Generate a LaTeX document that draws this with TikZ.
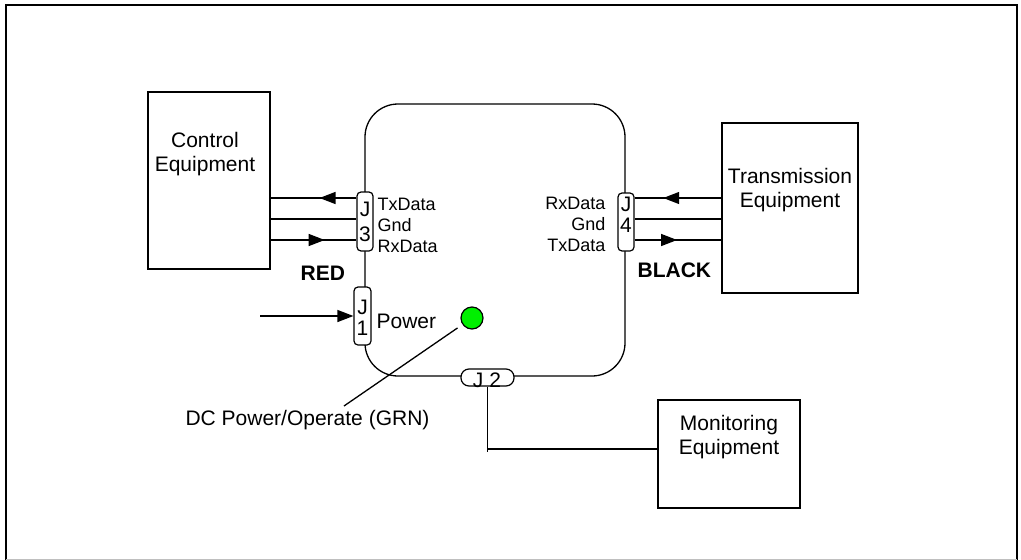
\documentclass[tikz,border=0pt]{standalone}
\usepackage{fontspec}
\setmainfont{Liberation Sans}
\usetikzlibrary{arrows.meta,decorations.markings}
\begin{document}
\begin{tikzpicture}[x=1pt,y=-1pt,
  line width=1.3pt,
  box/.style={draw, rectangle, inner sep=0pt},
  conn/.style={draw, fill=white, rounded corners=4pt, inner sep=0pt, line width=1.2pt},
  big/.style={font=\fontsize{21}{24}\selectfont, inner sep=0pt, align=center},
  pin/.style={font=\fontsize{18}{21}\selectfont, inner sep=0pt},
  jtxt/.style={font=\fontsize{21}{#1}\selectfont, inner sep=0pt, align=center},
  bold/.style={font=\fontsize{21}{24}\selectfont\bfseries, inner sep=0pt},
  tri/.style={arrows={-Triangle[length=16pt,width=12pt]}},
  midarrow/.style={postaction={decorate}, decoration={markings, mark=at position #1 with {\arrow{Triangle[length=16pt,width=12pt]}}}},
]
\useasboundingbox (0,0) rectangle (1021,560);
% outer frame
\draw[line width=2.5pt] (6,560) -- (6,5) -- (1017,5) -- (1017,560);
\draw[black!25, line width=1pt] (6,559) -- (1017,559);

% main unit
\node[draw, rounded corners=33pt, minimum width=260pt, minimum height=272pt, inner sep=0pt] (main) at (495,240) {};

% equipment boxes
\node[box, minimum width=122pt, minimum height=177pt] (ctrl) at (209,180.5) {};
\node[box, minimum width=136pt, minimum height=170pt] (trans) at (790,208) {};
\node[box, minimum width=142pt, minimum height=108pt] (mon) at (729,454) {};
\node[big] (ctrltxt) at (205,154.5) {Control\\Equipment};
\node[big] (transtxt) at (790,190.5) {Transmission\\Equipment};
\node[big] (montxt) at (729,437.5) {Monitoring\\Equipment};

% connectors
\node[conn, minimum width=16pt, minimum height=59pt] (J3) at (365,221.5) {};
\node[conn, minimum width=16pt, minimum height=58pt] (J4) at (626,222) {};
\node[conn, minimum width=17pt, minimum height=58pt] (J1) at (362.5,316) {};
\node[conn, rounded corners=8pt, minimum width=53pt, minimum height=17pt] (J2) at (487.5,377.5) {};
\node[jtxt=25] (J3t) at (365,222) {J\\3};
\node[jtxt=21] (J4t) at (626,214.5) {J\\4};
\node[jtxt=21] (J1t) at (362.5,317.5) {J\\1};
\node[font=\fontsize{21}{24}\selectfont, inner sep=0pt, anchor=base] (J2t) at (487,387) {J 2};

% J3 lines
\draw[midarrow=0.43] (J3.west |- 0,198) -- (ctrl.east |- 0,198);
\draw (ctrl.east |- 0,219) -- (J3.west |- 0,219);
\draw[midarrow=0.63] (ctrl.east |- 0,240) -- (J3.west |- 0,240);
% J4 lines
\draw[midarrow=0.67] (trans.west |- 0,198) -- (J4.east |- 0,198);
\draw (J4.east |- 0,219) -- (trans.west |- 0,219);
\draw[midarrow=0.49] (J4.east |- 0,240) -- (trans.west |- 0,240);

% pin labels
\node[pin, anchor=base west] (l3a) at (377,210) {TxData};
\node[pin, anchor=base west] (l3b) at (377,231) {Gnd};
\node[pin, anchor=base west] (l3c) at (377,252) {RxData};
\node[pin, anchor=base east] (l4a) at (606,209) {RxData};
\node[pin, anchor=base east] (l4b) at (606,230) {Gnd};
\node[pin, anchor=base east] (l4c) at (606,251) {TxData};

\node[bold, anchor=base west] (red) at (300,280) {RED};
\node[bold, anchor=base west] (black) at (637,277) {BLACK};

% power
\coordinate (pwr) at (260,316);
\draw[tri] (pwr) -- (J1.west);
\node[big, anchor=base west] (pwrtxt) at (376,328) {Power};

% LED
\node[circle, draw, fill={rgb,255:red,0;green,240;blue,0}, minimum size=22pt, inner sep=0pt, line width=1.2pt] (led) at (472,318) {};
\coordinate (dcl) at (344,406);
\draw[shorten <=6pt] (led) -- (dcl);
\node[big, anchor=base] (dctxt) at (307.5,425) {DC Power/Operate (GRN)};

% J2 to monitoring
\draw (J2.south) -- (J2.south |- 0,452);
\draw (J2.south |- 0,449) -- (mon.west |- 0,449);
\end{tikzpicture}
\end{document}
